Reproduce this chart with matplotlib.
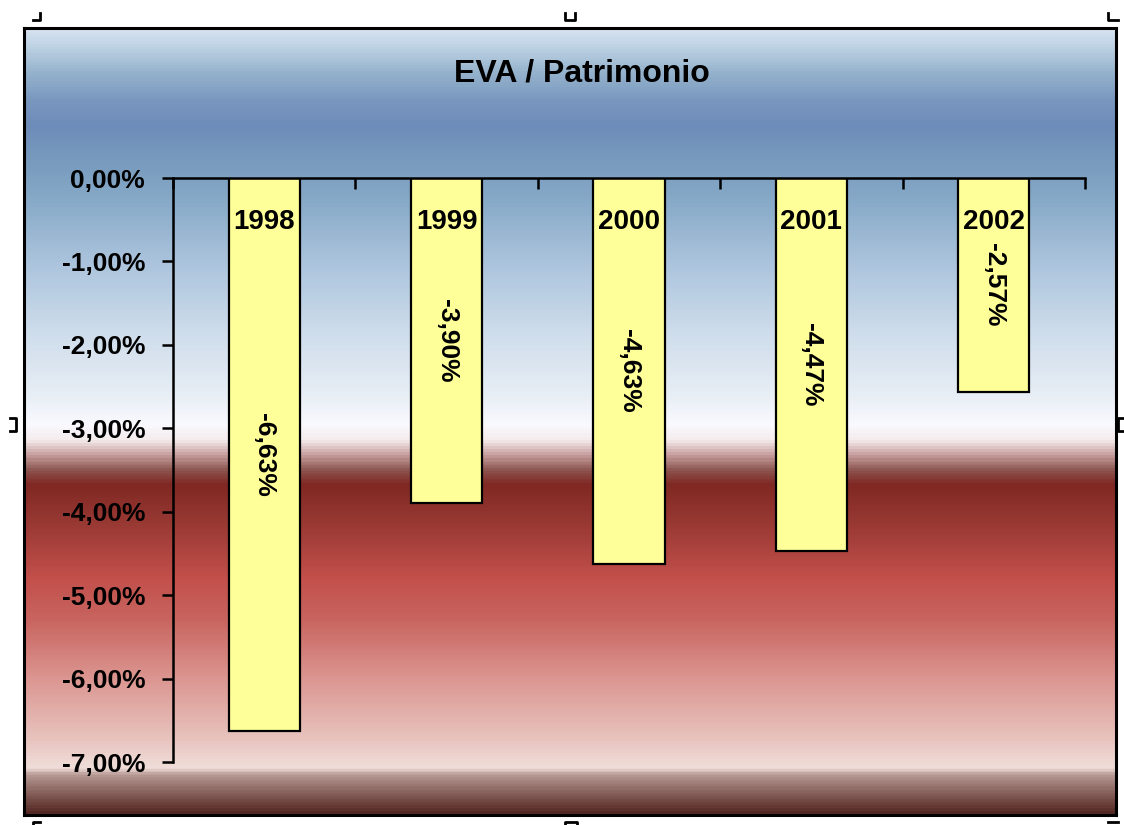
import numpy as np
import matplotlib
matplotlib.use("Agg")
import matplotlib.pyplot as plt
from matplotlib.colors import LinearSegmentedColormap
from matplotlib.lines import Line2D

# Data
years = ["1998", "1999", "2000", "2001", "2002"]
eva_pct = [-6.63, -3.90, -4.63, -4.47, -2.57]
y_ticks = [0, -1, -2, -3, -4, -5, -6, -7]
title = "EVA / Patrimonio"

W, H = 1124, 825
fig = plt.figure(figsize=(W / 100, H / 100), dpi=100)
fig.patch.set_facecolor("white")

font = ["Liberation Sans", "DejaVu Sans"]

# Chart-area frame (pixel coords)
fx0, fy0, fx1, fy1 = 24, 28, 1116, 815
bg = fig.add_axes([fx0 / W, 1 - fy1 / H, (fx1 - fx0) / W, (fy1 - fy0) / H])
bg.set_xlim(0, 1)
bg.set_ylim(fy1, fy0)

# Vertical gradient stops: (pixel row, RGB)
stops = [
    (28, (214, 226, 240)), (45, (190, 210, 228)), (70, (150, 180, 205)),
    (100, (120, 150, 190)), (125, (110, 140, 185)), (160, (120, 155, 190)),
    (200, (135, 170, 200)), (260, (170, 195, 220)), (330, (205, 220, 235)),
    (395, (232, 238, 245)), (425, (250, 250, 255)), (440, (245, 235, 235)),
    (455, (200, 160, 160)), (470, (140, 85, 80)), (485, (128, 40, 35)),
    (520, (150, 55, 50)), (580, (195, 80, 75)), (620, (200, 100, 95)),
    (680, (220, 150, 145)), (740, (232, 195, 190)), (770, (240, 222, 218)),
    (776, (185, 155, 150)), (800, (120, 80, 75)), (815, (85, 40, 35)),
]
pos = [(p - fy0) / (fy1 - fy0) for p, _ in stops]
cols = [tuple(c / 255 for c in rgb) for _, rgb in stops]
cmap = LinearSegmentedColormap.from_list("bg", list(zip(pos, cols)))
grad = np.linspace(0, 1, 800).reshape(-1, 1)
bg.imshow(grad, cmap=cmap, aspect="auto", extent=[0, 1, fy1, fy0],
          interpolation="bilinear")
bg.set_xticks([])
bg.set_yticks([])
for s in bg.spines.values():
    s.set_linewidth(2.2)
    s.set_color("black")

# Title
fig.text(582 / W, 1 - 74 / H, title, ha="center", va="center",
         fontsize=23, fontweight="bold", family=font)

# Plot area
ax0, ay0, ax1, ay1 = 173, 178, 1085, 762
ax = fig.add_axes([ax0 / W, 1 - ay1 / H, (ax1 - ax0) / W, (ay1 - ay0) / H])
ax.patch.set_alpha(0)
x = np.arange(len(years))
ax.bar(x, eva_pct, width=0.39, color="#ffff99", edgecolor="black",
       linewidth=1.6, zorder=3)
ax.set_xlim(-0.5, len(years) - 0.5)
ax.set_ylim(-7, 0)

for s in ["bottom", "right"]:
    ax.spines[s].set_visible(False)
for s in ["left", "top"]:
    ax.spines[s].set_linewidth(1.8)
ax.spines["top"].set_zorder(4)

ax.set_yticks(y_ticks)
ax.set_yticklabels([f"{v:.2f}%".replace(".", ",") for v in y_ticks],
                   fontsize=19, fontweight="bold", family=font)
ax.tick_params(axis="y", direction="out", length=8, width=1.8, pad=12)

ax.xaxis.set_ticks_position("top")
ax.set_xticks(np.arange(-0.5, len(years), 1.0))
ax.set_xticklabels([])
ax.tick_params(axis="x", direction="in", length=8, width=1.8)

for xi, yr, v in zip(x, years, eva_pct):
    ax.text(xi, -0.53, yr, ha="center", va="center", fontsize=20,
            fontweight="bold", family=font, zorder=5)
    ax.text(xi, v / 2, f"{v:.2f}%".replace(".", ","), ha="center",
            va="center", rotation=-90, fontsize=19, fontweight="bold",
            family=font, zorder=5)

# Selection handles around the chart object
overlay = fig.add_axes([0, 0, 1, 1])
overlay.set_xlim(0, W)
overlay.set_ylim(H, 0)
overlay.axis("off")
handles = [
    [(33, 20), (40, 20), (40, 13)],
    [(565, 13), (565, 20), (575, 20), (575, 13)],
    [(1108, 13), (1108, 20), (1118, 20)],
    [(10, 418), (16, 418), (16, 431), (10, 431)],
    [(1124, 418), (1118, 418), (1118, 431), (1124, 431)],
    [(33, 825), (33, 822), (40, 822)],
    [(565, 825), (565, 822), (577, 822), (577, 825)],
    [(1108, 822), (1118, 822)],
]
for pts in handles:
    xs, ys = zip(*pts)
    overlay.add_line(Line2D(xs, ys, color="black", linewidth=2))

fig.savefig("out.png", dpi=100, facecolor="white")
